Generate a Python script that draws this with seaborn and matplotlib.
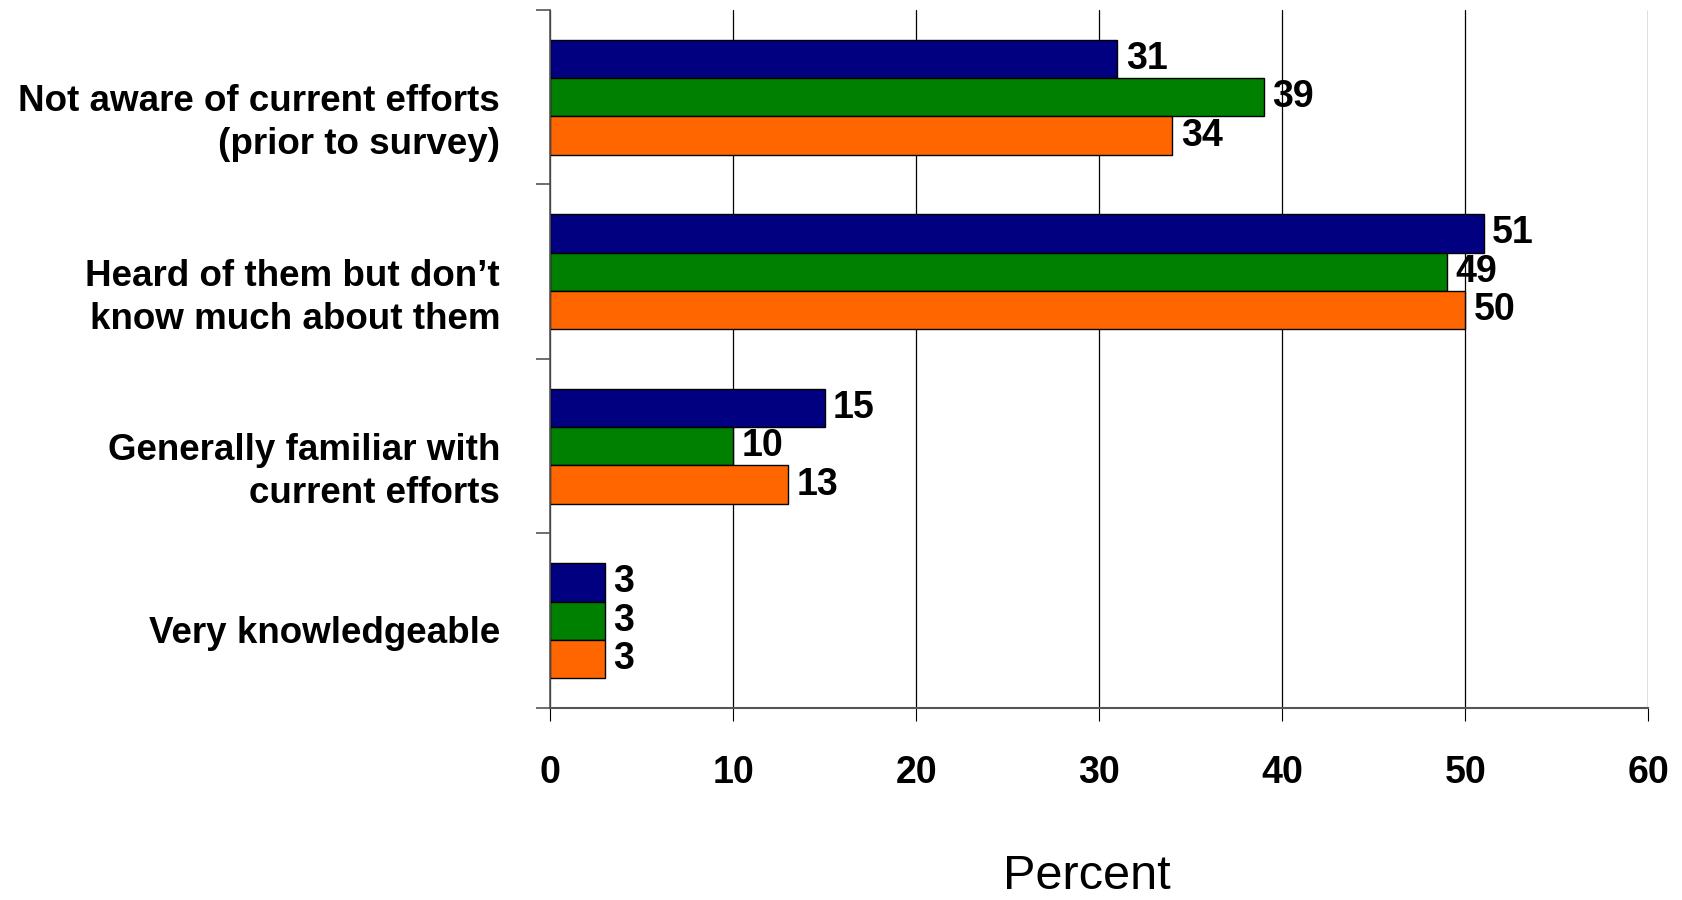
import matplotlib
matplotlib.use("Agg")
import matplotlib.pyplot as plt
import matplotlib.transforms as mtransforms
import seaborn as sns
import pandas as pd

categories = [
    "Not aware of current efforts\n(prior to survey)",
    "Heard of them but don\u2019t\nknow much about them",
    "Generally familiar with\ncurrent efforts",
    "Very knowledgeable",
]
series = ["Series 1", "Series 2", "Series 3"]
series_1 = [31, 51, 15, 3]
series_2 = [39, 49, 10, 3]
series_3 = [34, 50, 13, 3]
x_ticks = [0, 10, 20, 30, 40, 50, 60]

PALETTE = {"Series 1": "#000080", "Series 2": "#008000", "Series 3": "#FF6600"}

rows = []
for name, vals in zip(series, [series_1, series_2, series_3]):
    for cat, v in zip(categories, vals):
        rows.append({"category": cat, "series": name, "percent": v})
df = pd.DataFrame(rows)

sns.set_style("white")
plt.rcParams["font.family"] = ["Liberation Sans", "DejaVu Sans"]
plt.rcParams["text.color"] = "black"
plt.rcParams["xtick.color"] = "black"
plt.rcParams["ytick.color"] = "black"
plt.rcParams["axes.labelcolor"] = "black"

fig = plt.figure(figsize=(16.82, 9), dpi=100)
ax = fig.add_axes([0.327, 0.2133, 0.653, 0.7757])

sns.barplot(data=df, y="category", x="percent", hue="series",
            order=categories, hue_order=series, palette=PALETTE,
            orient="h", width=0.66, edgecolor="black", linewidth=1,
            saturation=1, legend=False, ax=ax)

for container in ax.containers:
    ax.bar_label(container, padding=6, fontsize=27, fontweight="bold", color="black")

ax.set_xlim(0, 60)
ax.set_ylim(3.5, -0.5)
ax.set_xticks(x_ticks)
ax.set_xticklabels([str(t) for t in x_ticks], fontsize=27, fontweight="bold")
ax.tick_params(axis="x", length=9.5, width=0.8, color="black", pad=24, bottom=True)

ax.set_yticks(range(len(categories)))
ax.set_yticklabels(categories, fontsize=26.5, fontweight="bold", linespacing=1.3)
ax.set_yticks([i - 0.5 for i in range(len(categories) + 1)], minor=True)
ax.tick_params(axis="y", which="major", length=0, pad=36)
ax.tick_params(axis="y", which="minor", length=10, width=1.2, color="#555555", left=True)

# nudge category labels down a little, like the original
for lbl in ax.get_yticklabels():
    nlines = lbl.get_text().count("\n") + 1
    dy = -(6 + 7 * (nlines - 1)) / 72
    lbl.set_transform(lbl.get_transform() + mtransforms.ScaledTranslation(0, dy, fig.dpi_scale_trans))

ax.xaxis.grid(True, color="black", linewidth=0.9)
ax.set_axisbelow(True)
for side in ["top", "right"]:
    ax.spines[side].set_visible(False)
ax.spines["left"].set_color("#555555")
ax.spines["bottom"].set_color("#555555")
ax.spines["left"].set_linewidth(1.2)
ax.spines["bottom"].set_linewidth(1.5)

ax.set_ylabel("")
ax.set_xlabel("Percent", fontsize=35)
ax.xaxis.label.set_va("baseline")
ax.xaxis.set_label_coords(0.489, -0.259)

fig.savefig("out.png", dpi=100)
